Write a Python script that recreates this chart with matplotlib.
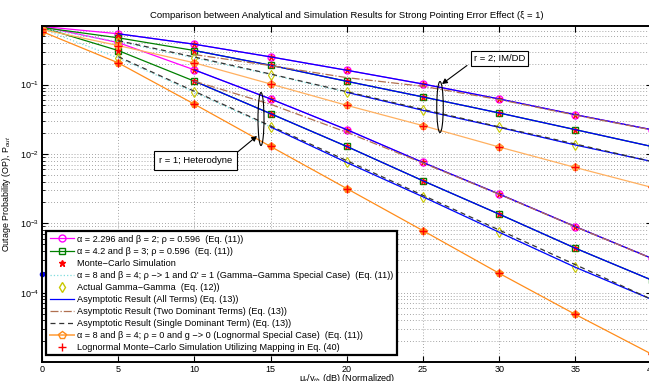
import matplotlib.pyplot as plt
from matplotlib.lines import Line2D
from matplotlib.patches import Ellipse, FancyArrowPatch
import matplotlib.ticker as mticker

plt.rcParams['font.family'] = ['Liberation Sans', 'DejaVu Sans']
plt.rcParams['mathtext.fontset'] = 'custom'
plt.rcParams['mathtext.rm'] = 'Liberation Sans'
plt.rcParams['mathtext.it'] = 'Liberation Sans:italic'

# SNR axis (dB)
snr = [0, 5, 10, 15, 20, 25, 30, 35, 40]

# r = 2 (IM/DD)
r2_gg1 = [0.689, 0.541, 0.382, 0.251, 0.161, 0.102, 0.0621, 0.0368, 0.0224]
r2_gg2 = [0.667, 0.473, 0.310, 0.190, 0.1116, 0.0664, 0.0390, 0.0224, 0.01282]
r2_gg3 = [0.644, 0.418, 0.242, 0.1395, 0.0774, 0.0426, 0.0242, 0.01346, 0.0078]
r2_ln = [0.624, 0.366, 0.206, 0.102, 0.0502, 0.0256, 0.01259, 0.00638, 0.0033]

# r = 1 (heterodyne)
r1_gg1 = [0.689, 0.404, 0.163, 0.0621, 0.0224, 0.00753, 0.00264, 0.000895, 0.000313]
r1_gg2 = [0.667, 0.310, 0.112, 0.0381, 0.01282, 0.0041, 0.001355, 0.000437, 0.000152]
r1_gg3 = [0.635, 0.243, 0.0774, 0.0245, 0.00753, 0.00241, 0.000743, 0.000232, 0.00008]
r1_ln = [0.583, 0.206, 0.0522, 0.01282, 0.00317, 0.000783, 0.00019, 0.0000485, 0.000013]

# two dominant terms asymptotes (from 10 dB)
snr_two = [10, 15, 20, 25, 30, 35, 40]
r2_two = [0.271, 0.188, 0.126, 0.0945, 0.0608, 0.0363, 0.0222]
r1_two = [0.112, 0.052, 0.0205, 0.0074, 0.00262, 0.00089, 0.000312]

# single dominant term asymptotes (from 5 dB)
snr_one = [5, 10, 15, 20, 25, 30, 35, 40]
r2_one = [0.43, 0.25, 0.142, 0.079, 0.0438, 0.0246, 0.0139, 0.0078]
r1_one = [0.253, 0.080, 0.0253, 0.0080, 0.00253, 0.00080, 0.000253, 0.00008]

# stray point on the left axis
stray_x = [0]
stray_y = [1.86e-4]

W, H = 649, 381
fig = plt.figure(figsize=(W / 100, H / 100), dpi=100)
ax = fig.add_axes([42 / W, 1 - 362 / H, (651.6 - 42) / W, (362 - 26) / H])

c_mag = '#FF00FF'
c_grn = '#008000'
c_cyan = '#7FDDDD'
c_yel = '#C8C800'
c_blue = '#0000FF'
c_brown = '#B07050'
c_or1 = '#FF8C1A'
c_or2 = '#FFB060'
lw = 0.9

for y in (r2_gg1, r1_gg1):
    ax.plot(snr, y, color=c_mag, lw=lw, marker='o', ms=5, mfc='none', mec=c_mag, mew=1.0)
for y in (r2_gg2, r1_gg2):
    ax.plot(snr, y, color=c_grn, lw=lw, marker='s', ms=4.5, mfc='none', mec=c_grn, mew=1.0)
for y in (r2_gg1, r1_gg1, r2_gg2, r1_gg2):
    ax.plot(snr, y, ls='none', marker='*', ms=5, color='red', mew=0.6)
for y in (r2_gg3, r1_gg3):
    ax.plot(snr, y, color=c_cyan, lw=lw, ls=':')
    ax.plot(snr, y, ls='none', marker='d', ms=5.5, mfc='none', mec=c_yel, mew=0.8)

# asymptotes: all terms
ax.plot(snr[1:], r2_gg1[1:], color=c_blue, lw=lw)
ax.plot(snr[2:], r2_gg2[2:], color=c_blue, lw=lw)
ax.plot(snr[4:], r2_gg3[4:], color=c_blue, lw=lw)
ax.plot(snr[2:], r1_gg1[2:], color=c_blue, lw=lw)
ax.plot(snr[2:], r1_gg2[2:], color=c_blue, lw=lw)
ax.plot(snr[3:], r1_gg3[3:], color=c_blue, lw=lw)

ax.plot(snr_two, r2_two, color=c_brown, lw=lw, ls='-.')
ax.plot(snr_two, r1_two, color=c_brown, lw=lw, ls='-.')
ax.plot(snr_one, r2_one, color='#333333', lw=lw, ls=(0, (4, 3)))
ax.plot(snr_one, r1_one, color='#333333', lw=lw, ls=(0, (4, 3)))

ax.plot(snr, r2_ln, color=c_or2, lw=lw, marker='p', ms=6, mfc=c_or2, mec=c_or1, mew=0.6)
ax.plot(snr, r1_ln, color=c_or1, lw=lw, marker='p', ms=6, mfc=c_or1, mec=c_or1, mew=0.6)
for y in (r2_ln, r1_ln):
    ax.plot(snr, y, ls='none', marker='+', ms=6, color='red', mew=1.0)

ax.plot(stray_x, stray_y, ls='none', marker='o', ms=3, color=c_blue, clip_on=False)

ax.set_yscale('log')
ax.set_xlim(0, 40)
ax.set_ylim(1e-5, 0.7)
ax.set_xticks(range(0, 41, 5))
ax.set_yticks([1e-4, 1e-3, 1e-2, 1e-1])
ax.yaxis.set_minor_locator(mticker.LogLocator(base=10, subs=range(2, 10), numticks=20))
ax.yaxis.set_minor_formatter(mticker.NullFormatter())
ax.tick_params(which='both', direction='in', top=True, right=True, labelsize=6.5, pad=2)
ax.tick_params(which='major', length=4, width=0.8)
ax.tick_params(which='minor', length=2, width=0.6)
for s in ax.spines.values():
    s.set_linewidth(1.4)
ax.grid(True, which='major', color='#888888', ls=(0, (1, 2.5)), lw=0.6)
ax.grid(True, which='minor', axis='y', color='#888888', ls=(0, (1, 2.5)), lw=0.6)

ax.set_title('Comparison between Analytical and Simulation Results for Strong Pointing Error Effect (ξ = 1)',
             fontsize=6.8, pad=6)
ax.set_xlabel('μ$_r$/γ$_{th}$ (dB) (Normalized)', fontsize=6.6, labelpad=-1)
ax.set_ylabel('Outage Probability (OP), P$_{out}$', fontsize=6.4, labelpad=5)

handles = [
    Line2D([], [], color=c_mag, lw=lw, marker='o', ms=5, mfc='none'),
    Line2D([], [], color=c_grn, lw=lw, marker='s', ms=4.5, mfc='none'),
    Line2D([], [], color='red', ls='none', marker='*', ms=5),
    Line2D([], [], color=c_cyan, lw=lw, ls=':'),
    Line2D([], [], color=c_yel, ls='none', marker='d', ms=5.5, mfc='none'),
    Line2D([], [], color=c_blue, lw=lw),
    Line2D([], [], color=c_brown, lw=lw, ls='-.'),
    Line2D([], [], color='#333333', lw=lw, ls=(0, (4, 3))),
    Line2D([], [], color=c_or2, lw=1.4, marker='p', ms=6, mfc='none', mec=c_or1),
    Line2D([], [], color='red', ls='none', marker='+', ms=6),
]
labels = [
    'α = 2.296 and β = 2; ρ = 0.596  (Eq. (11))',
    'α = 4.2 and β = 3; ρ = 0.596  (Eq. (11))',
    'Monte−Carlo Simulation',
    "α = 8 and β = 4; ρ −> 1 and Ω' = 1 (Gamma−Gamma Special Case)  (Eq. (11))",
    'Actual Gamma−Gamma  (Eq. (12))',
    'Asymptotic Result (All Terms) (Eq. (13))',
    'Asymptotic Result (Two Dominant Terms) (Eq. (13))',
    'Asymptotic Result (Single Dominant Term) (Eq. (13))',
    'α = 8 and β = 4; ρ = 0 and g −> 0 (Lognormal Special Case)  (Eq. (11))',
    'Lognormal Monte−Carlo Simulation Utilizing Mapping in Eq. (40)',
]
leg = ax.legend(handles, labels, loc='upper left', bbox_to_anchor=(46.5 / W, 1 - 231.5 / H),
                bbox_transform=fig.transFigure, fontsize=6.6, frameon=True, fancybox=False,
                borderpad=0.35, labelspacing=0.33, handlelength=2.7, handletextpad=0.3,
                borderaxespad=0)
leg.get_frame().set_edgecolor('black')
leg.get_frame().set_linewidth(1.6)
leg.get_frame().set_alpha(1)


def fp(x, y):
    return (x / W, 1 - y / H)


for cx, cy, ew, eh in [(440, 107, 6.5, 51), (261, 119, 6, 53)]:
    fig.add_artist(Ellipse(fp(cx, cy), ew / W, eh / H, transform=fig.transFigure,
                           fill=False, edgecolor='black', lw=0.8))

box = dict(boxstyle='square,pad=0.35', fc='white', ec='black', lw=0.8)
fig.text(*fp(499.5, 58.5), 'r = 2; IM/DD', fontsize=6.8, ha='center', va='center', bbox=box)
box1 = dict(boxstyle='square,pad=0.55', fc='white', ec='black', lw=0.8)
fig.text(*fp(195.5, 160.8), 'r = 1; Heterodyne', fontsize=6.8, ha='center', va='center', bbox=box1)

for p0, p1 in [((467, 65.5), (442, 84)), ((237, 152.5), (257, 136))]:
    fig.add_artist(FancyArrowPatch(fp(*p0), fp(*p1), transform=fig.transFigure,
                                   arrowstyle='-|>,head_length=3,head_width=1.6',
                                   color='black', lw=0.8, shrinkA=0, shrinkB=0))

fig.savefig('out.png', dpi=100)
